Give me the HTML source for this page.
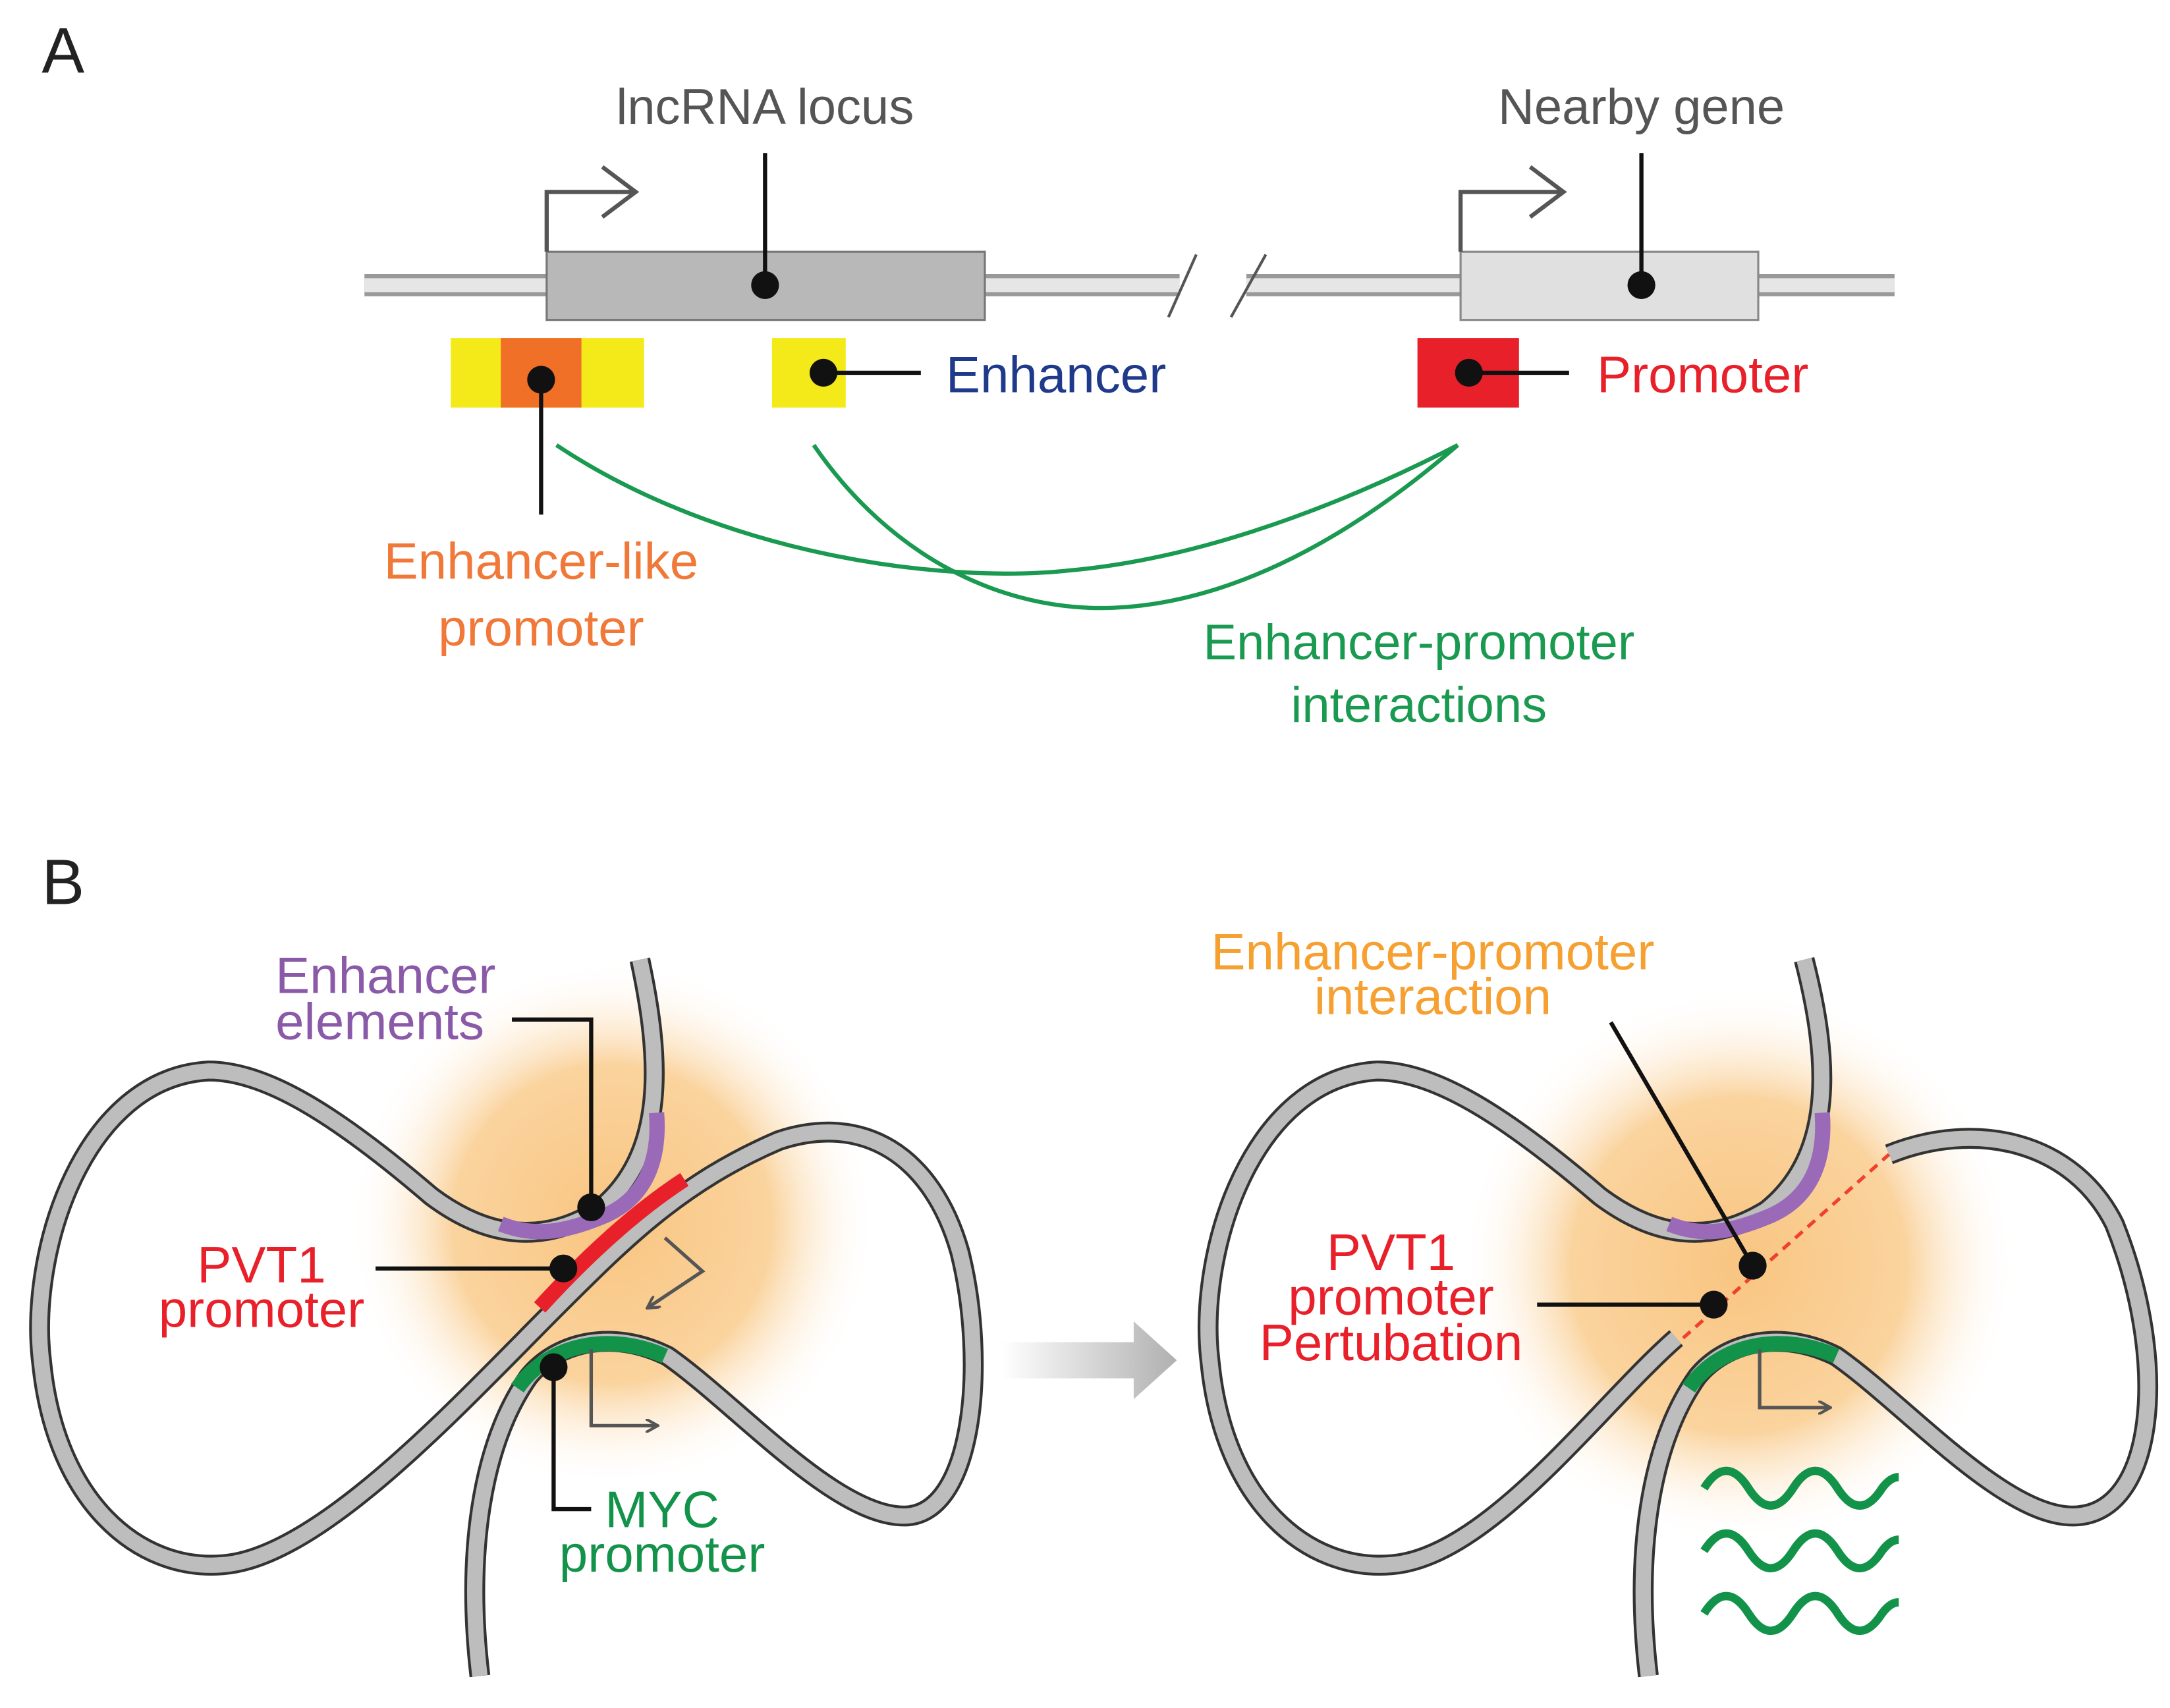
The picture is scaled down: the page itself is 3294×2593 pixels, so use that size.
<!DOCTYPE html>
<html><head><meta charset="utf-8"><style>html,body{margin:0;padding:0;background:#fff}svg{display:block}text{font-family:"Liberation Sans",sans-serif}</style></head>
<body>
<svg width="3294" height="2593" viewBox="0 0 1560 1228" xmlns="http://www.w3.org/2000/svg">
<defs>
<radialGradient id="gl" cx="0.5" cy="0.5" r="0.5"><stop offset="0" stop-color="#f8c27a" stop-opacity="0.95"/><stop offset="0.6" stop-color="#f9c885" stop-opacity="0.8"/><stop offset="1" stop-color="#fff" stop-opacity="0"/></radialGradient>
<linearGradient id="ga" x1="0" x2="1"><stop offset="0" stop-color="#fff"/><stop offset="1" stop-color="#b0b0b0"/></linearGradient>
<marker id="ah" markerWidth="10" markerHeight="10" refX="8" refY="5" orient="auto" markerUnits="userSpaceOnUse"><path d="M0,0 L9,5 L0,10" fill="none" stroke="#555" stroke-width="2"/></marker>
<marker id="ah2" markerWidth="40" markerHeight="40" refX="24" refY="20" orient="auto" markerUnits="userSpaceOnUse"><path d="M2,2 L26,20 L2,38" fill="none" stroke="#555" stroke-width="3"/></marker>
</defs>
<text x="30" y="52" font-size="46" fill="#222">A</text>
<g>
<path d="M262,205 H848 M896,205 H1362" stroke="#999" stroke-width="16"/>
<path d="M262,205 H848 M896,205 H1362" stroke="#e6e6e6" stroke-width="10"/>
<path d="M840,228 L860,183 M885,228 L910,183" stroke="#555" stroke-width="2"/>
</g>
<rect x="393" y="181" width="315" height="49" fill="#b8b8b8" stroke="#777" stroke-width="1.5"/>
<rect x="1050" y="181" width="214" height="49" fill="#e0e0e0" stroke="#888" stroke-width="1.5"/>
<path d="M393,181 V138 H455" fill="none" stroke="#555" stroke-width="3" marker-end="url(#ah2)"/>
<path d="M1050,181 V138 H1122" fill="none" stroke="#555" stroke-width="3" marker-end="url(#ah2)"/>
<text x="550" y="89" font-size="36" fill="#555" text-anchor="middle">lncRNA locus</text>
<text x="1180" y="89" font-size="36" fill="#555" text-anchor="middle">Nearby gene</text>
<path d="M550,110 V205 M1180,110 V205" stroke="#111" stroke-width="3"/>
<circle cx="550" cy="205" r="10" fill="#111"/><circle cx="1180" cy="205" r="10" fill="#111"/>
<rect x="324" y="243" width="139" height="50" fill="#f4ea1a"/>
<rect x="360" y="243" width="58" height="50" fill="#f07028"/>
<path d="M389,273 V370" stroke="#111" stroke-width="3"/><circle cx="389" cy="273" r="10" fill="#111"/>
<text x="389" y="416" font-size="37" fill="#f07838" text-anchor="middle">Enhancer-like</text>
<text x="389" y="464" font-size="37" fill="#f07838" text-anchor="middle">promoter</text>
<rect x="555" y="243" width="53" height="50" fill="#f4ea1a"/>
<path d="M592,268 H662" stroke="#111" stroke-width="3"/><circle cx="592" cy="268" r="10" fill="#111"/>
<text x="680" y="282" font-size="37" fill="#1f3a8a">Enhancer</text>
<rect x="1019" y="243" width="73" height="50" fill="#e8202a"/>
<path d="M1056,268 H1128" stroke="#111" stroke-width="3"/><circle cx="1056" cy="268" r="10" fill="#111"/>
<text x="1148" y="282" font-size="37" fill="#e8202a">Promoter</text>
<path d="M400,320 C520,400 680,420 770,410 C880,400 990,350 1048,320" fill="none" stroke="#1a9a50" stroke-width="3"/>
<path d="M585,320 C640,400 720,440 800,437 C900,433 990,370 1048,320" fill="none" stroke="#1a9a50" stroke-width="3"/>
<text x="1020" y="474" font-size="36" fill="#1a9a50" text-anchor="middle">Enhancer-promoter</text>
<text x="1020" y="519" font-size="36" fill="#1a9a50" text-anchor="middle">interactions</text>

<text x="30" y="650" font-size="46" fill="#222">B</text>
<ellipse cx="440" cy="880" rx="190" ry="190" fill="url(#gl)"/>
<g fill="none" stroke-linecap="butt">
<path d="M460,690 C475,760 480,830 430,870 C390,895 350,890 310,860 C240,800 190,770 150,770 C60,775 20,900 30,980 C40,1080 100,1130 160,1125 C230,1120 330,1010 400,940 C450,890 490,850 560,820 C620,800 670,830 690,900 C710,980 700,1090 650,1090 C600,1090 530,1010 480,975 C440,955 400,965 380,990 C345,1040 335,1120 345,1205" stroke="#333" stroke-width="15"/>
<path d="M460,690 C475,760 480,830 430,870 C390,895 350,890 310,860 C240,800 190,770 150,770 C60,775 20,900 30,980 C40,1080 100,1130 160,1125 C230,1120 330,1010 400,940 C450,890 490,850 560,820 C620,800 670,830 690,900 C710,980 700,1090 650,1090 C600,1090 530,1010 480,975 C440,955 400,965 380,990 C345,1040 335,1120 345,1205" stroke="#bdbdbd" stroke-width="11"/>
<path d="M472,800 C475,840 460,865 430,876 C400,888 380,888 360,880" stroke="#9a6ab8" stroke-width="11"/>
<path d="M388,940 C420,905 455,872 492,848" stroke="#e8202a" stroke-width="11"/>
<path d="M372,998 C395,965 440,958 478,975" stroke="#13934a" stroke-width="11"/>
</g>
<path d="M368,733 H425 V868" fill="none" stroke="#111" stroke-width="3"/><circle cx="425" cy="868" r="10" fill="#111"/>
<path d="M270,912 H405" stroke="#111" stroke-width="3"/><circle cx="405" cy="912" r="10" fill="#111"/>
<path d="M398,983 V1085 H425" fill="none" stroke="#111" stroke-width="3"/><circle cx="398" cy="983" r="10" fill="#111"/>
<path d="M478,890 L505,914 L466,940" fill="none" stroke="#555" stroke-width="2.5" marker-end="url(#ah)"/>
<path d="M425,970 V1025 H472" fill="none" stroke="#555" stroke-width="2.5" marker-end="url(#ah)"/>
<text x="198" y="714" font-size="37" fill="#8a5aa8">Enhancer</text>
<text x="198" y="747" font-size="37" fill="#8a5aa8">elements</text>
<text x="188" y="922" font-size="37" fill="#e8202a" text-anchor="middle">PVT1</text>
<text x="188" y="954" font-size="37" fill="#e8202a" text-anchor="middle">promoter</text>
<text x="476" y="1098" font-size="37" fill="#13934a" text-anchor="middle">MYC</text>
<text x="476" y="1130" font-size="37" fill="#13934a" text-anchor="middle">promoter</text>
<path d="M720,965 H815 V950 L846,978 L815,1006 V991 H720 Z" fill="url(#ga)"/>
<ellipse cx="1250" cy="910" rx="200" ry="200" fill="url(#gl)"/>
<g fill="none">
<path d="M1297,690 C1315,760 1320,830 1270,870 C1230,895 1190,890 1150,860 C1080,800 1030,770 990,770 C900,775 860,900 870,980 C880,1080 940,1130 1000,1125 C1070,1120 1150,1010 1205,962" stroke="#333" stroke-width="15"/>
<path d="M1297,690 C1315,760 1320,830 1270,870 C1230,895 1190,890 1150,860 C1080,800 1030,770 990,770 C900,775 860,900 870,980 C880,1080 940,1130 1000,1125 C1070,1120 1150,1010 1205,962" stroke="#bdbdbd" stroke-width="11"/>
<path d="M1358,830 C1420,805 1490,820 1520,880 C1560,980 1550,1090 1490,1090 C1440,1090 1370,1010 1320,975 C1280,955 1240,965 1220,990 C1185,1040 1175,1120 1185,1205" stroke="#333" stroke-width="15"/>
<path d="M1358,830 C1420,805 1490,820 1520,880 C1560,980 1550,1090 1490,1090 C1440,1090 1370,1010 1320,975 C1280,955 1240,965 1220,990 C1185,1040 1175,1120 1185,1205" stroke="#bdbdbd" stroke-width="11"/>
<path d="M1310,800 C1313,840 1298,865 1268,876 C1238,888 1220,888 1200,880" stroke="#9a6ab8" stroke-width="11"/>
<path d="M1214,998 C1237,965 1282,958 1320,975" stroke="#13934a" stroke-width="11"/>
<path d="M1210,962 L1358,830" stroke="#f04030" stroke-width="2.5" stroke-dasharray="7,5"/>
</g>
<path d="M1158,735 L1260,910" stroke="#111" stroke-width="3"/><circle cx="1260" cy="910" r="10" fill="#111"/>
<path d="M1105,938 H1232" stroke="#111" stroke-width="3"/><circle cx="1232" cy="938" r="10" fill="#111"/>
<path d="M1265,970 V1012 H1315" fill="none" stroke="#555" stroke-width="2.5" marker-end="url(#ah)"/>
<g fill="none" stroke="#13934a" stroke-width="6">
<path d="M1225,1070 q16,-25 32,0 t32,0 t32,0 t32,0 q6,-8 12,-8"/>
<path d="M1225,1115 q16,-25 32,0 t32,0 t32,0 t32,0 q6,-8 12,-8"/>
<path d="M1225,1160 q16,-25 32,0 t32,0 t32,0 t32,0 q6,-8 12,-8"/>
</g>
<text x="1030" y="697" font-size="37" fill="#f5a030" text-anchor="middle">Enhancer-promoter</text>
<text x="1030" y="729" font-size="37" fill="#f5a030" text-anchor="middle">interaction</text>
<text x="1000" y="913" font-size="37" fill="#e8202a" text-anchor="middle">PVT1</text>
<text x="1000" y="945" font-size="37" fill="#e8202a" text-anchor="middle">promoter</text>
<text x="1000" y="978" font-size="37" fill="#e8202a" text-anchor="middle">Pertubation</text>
</svg>
</body></html>
